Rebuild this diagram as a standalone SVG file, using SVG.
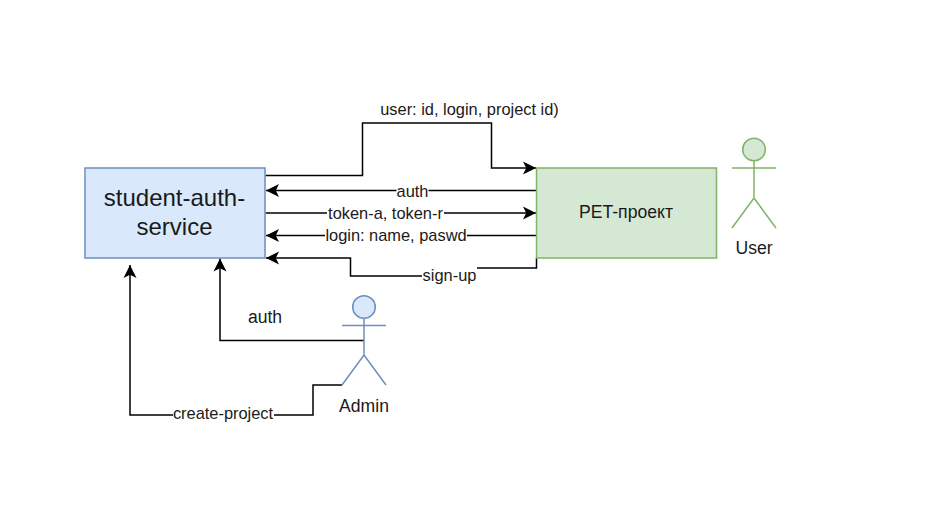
<svg xmlns="http://www.w3.org/2000/svg" width="925" height="512" viewBox="0 0 925 512">
<style>
text{font-family:"Liberation Sans",Arial,sans-serif;fill:#1a1a1a;text-anchor:middle}
.l{font-size:16.4px}
.m{font-size:17.6px}
.c{fill:none;stroke:#000;stroke-width:1.5}
.bg{fill:#fff}
.blue{fill:#dae8fc;stroke:#6c8ebf;stroke-width:1.5}
.green{fill:#d5e8d4;stroke:#82b366;stroke-width:1.5}
.sb{fill:none;stroke:#6c8ebf;stroke-width:1.5}
.sg{fill:none;stroke:#82b366;stroke-width:1.5}
</style>
<defs>
<marker id="a" markerUnits="userSpaceOnUse" markerWidth="14" markerHeight="14" refX="13" refY="7" orient="auto"><path d="M0,0.5 L13,7 L0,13.500 L3.200,7Z" fill="#000"/></marker>
</defs>
<rect width="925" height="512" fill="#fff"/>
<g id="connectors">
<path class="c" marker-end="url(#a)" d="M265.500,175.500H362.500V123H491.500V168H536"/>
<path class="c" marker-end="url(#a)" d="M536.500,190.500H266"/>
<path class="c" marker-end="url(#a)" d="M265.500,213H536"/>
<path class="c" marker-end="url(#a)" d="M536.500,235.500H266"/>
<path class="c" marker-end="url(#a)" d="M536.500,258V268H450V276H350.500V258H266"/>
<path class="c" marker-end="url(#a)" d="M364,340.500H220V258.500"/>
<path class="c" marker-end="url(#a)" d="M342,385H313V415H130V265"/>
<g id="connector-labels">
<rect class="bg" x="396.500" y="183" width="32" height="15"/>
<text class="l" x="412.500" y="196.500">auth</text>
<rect class="bg" x="327" y="205" width="117" height="16"/>
<text class="l" x="385.500" y="218.500">token-a, token-r</text>
<rect class="bg" x="325" y="228" width="142" height="16"/>
<text class="l" x="396" y="241">login: name, paswd</text>
<rect class="bg" x="422" y="267" width="55" height="17"/>
<text class="l" x="449.500" y="281">sign-up</text>
<rect class="bg" x="173" y="406" width="101" height="16"/>
<text class="l" x="223" y="418.500">create-project</text>
<text class="l" x="469.500" y="115">user: id, login, project id)</text>
<text class="m" x="265" y="322.500">auth</text>
</g>
</g>
<g id="student-auth-service">
<rect class="blue" x="85" y="168" width="180" height="90"/>
<text x="174.500" y="206" font-size="24px">student-auth-</text>
<text x="174.500" y="235" font-size="24px">service</text>
</g>
<g id="pet-project">
<rect class="green" x="536.500" y="168" width="180" height="90"/>
<text class="m" x="626" y="218">PET-проект</text>
</g>
<g id="user">
<circle class="green" cx="754" cy="149.500" r="11.300"/>
<path class="sg" d="M754,161V198M732,168H776M732,228L754,198L776,228"/>
<text class="m" x="754" y="253.500">User</text>
</g>
<g id="admin">
<circle class="blue" cx="364" cy="307" r="11.300"/>
<path class="sb" d="M364,318.500V355M342,325.500H386M342,385L364,355L386,385"/>
<text class="m" x="364" y="411.500">Admin</text>
</g>
</svg>
